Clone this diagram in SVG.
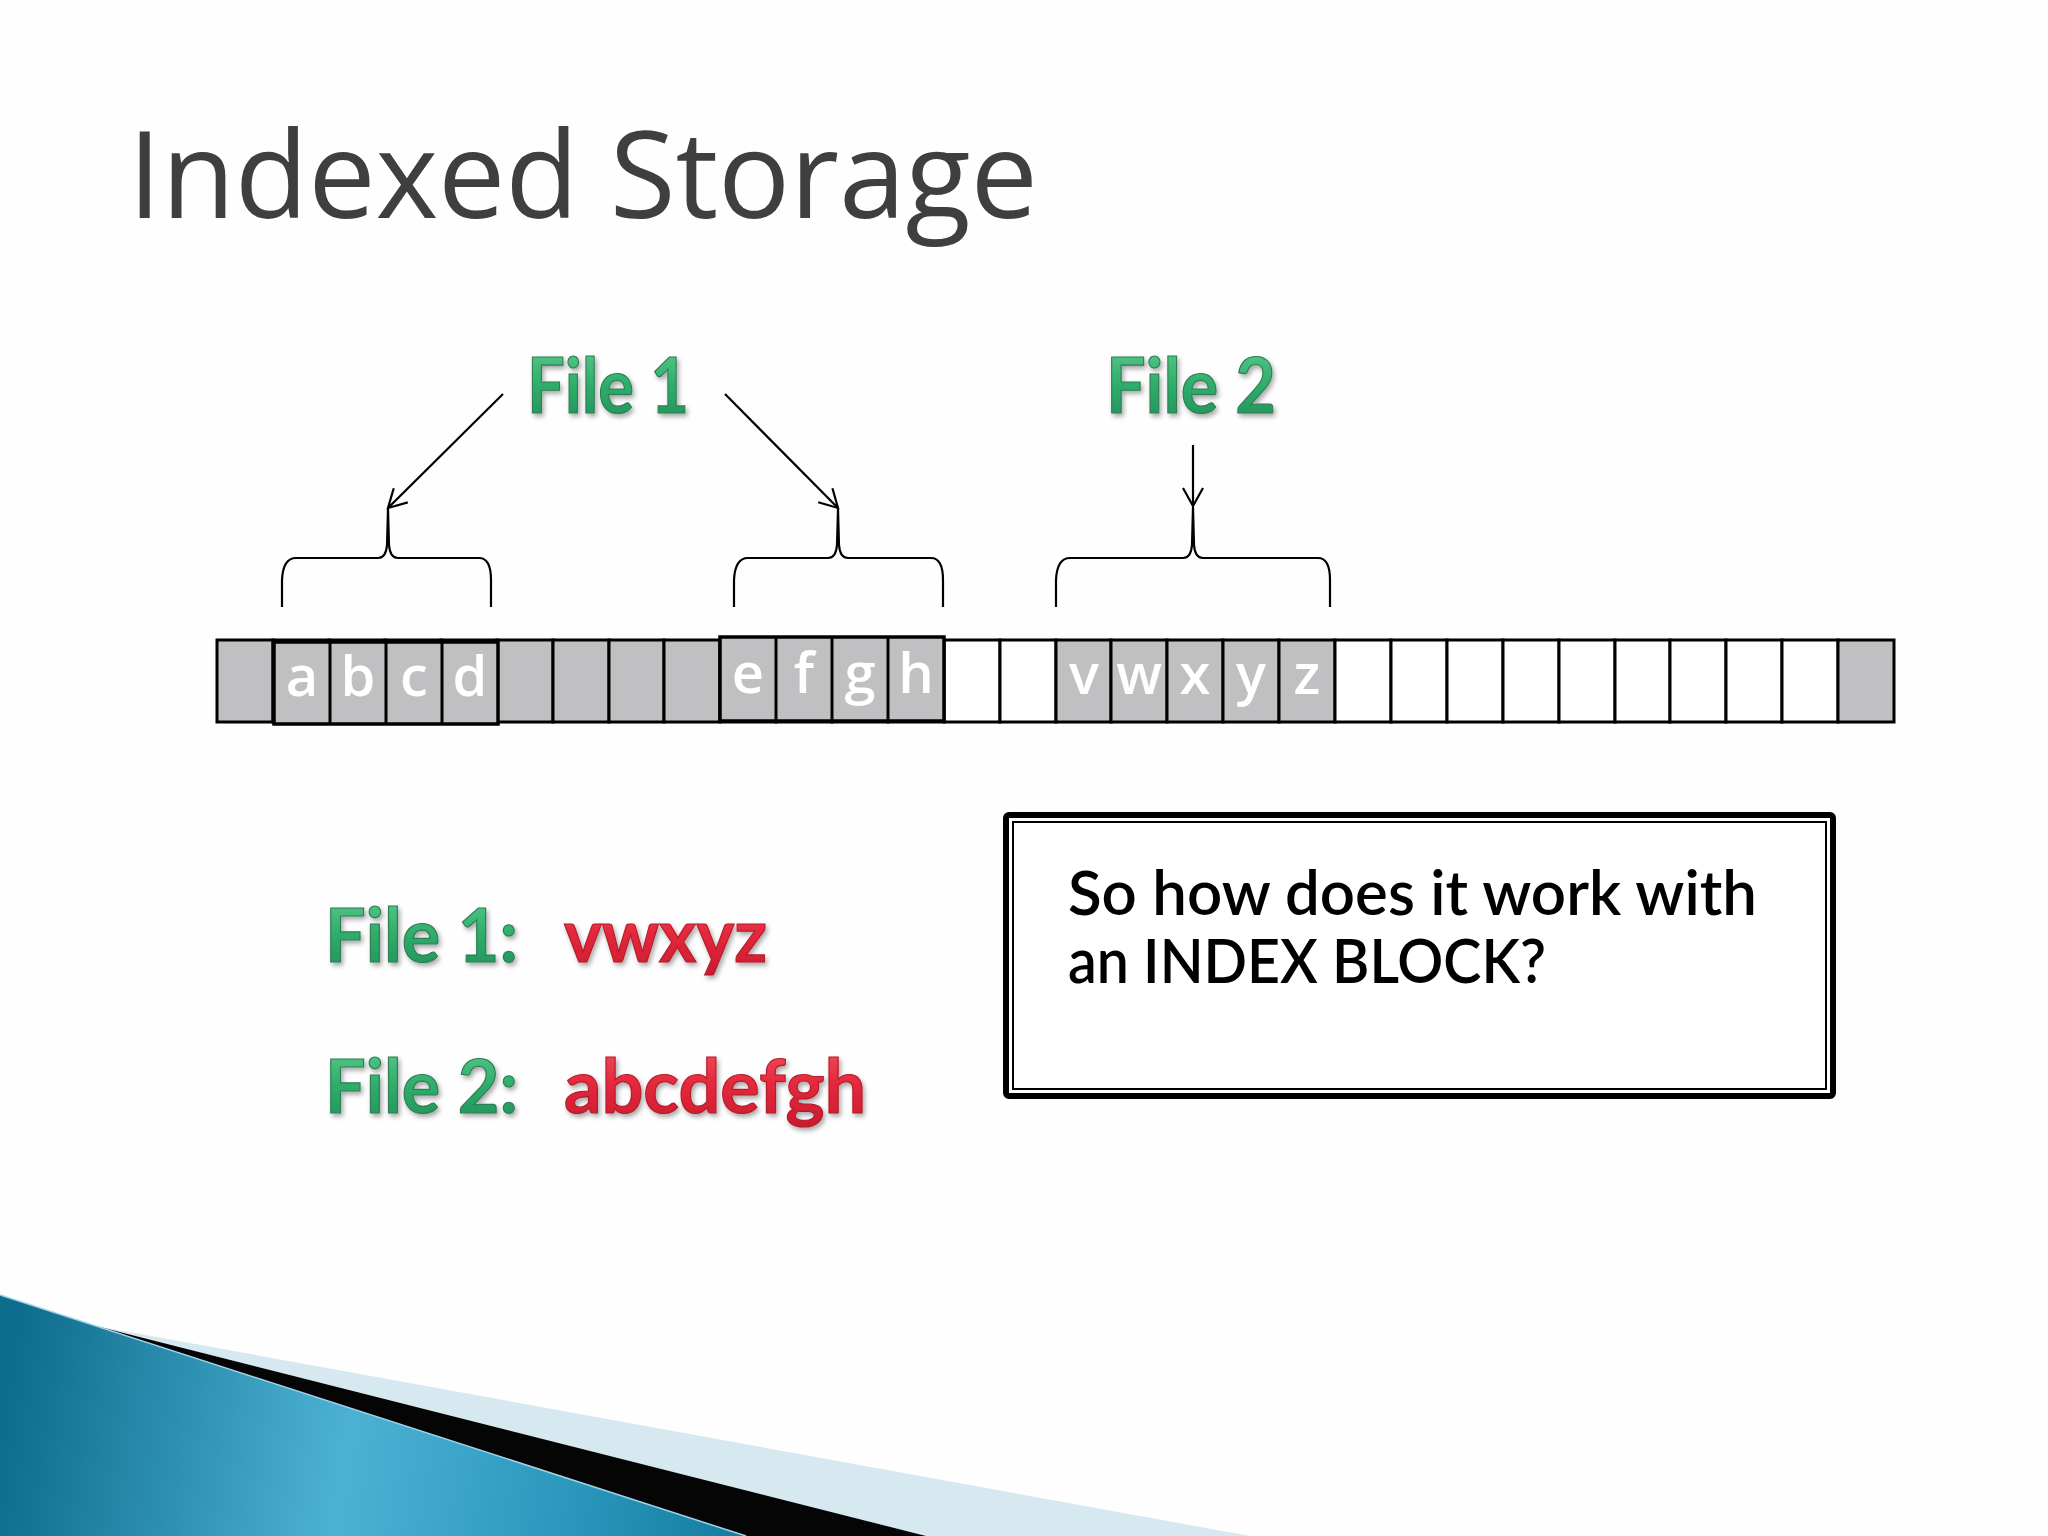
<svg xmlns="http://www.w3.org/2000/svg" width="2048" height="1536" viewBox="0 0 2048 1536">
  <defs>
    <style>
      .title { font-family: "Open Sans", "DejaVu Sans", sans-serif; font-size: 120px; fill: #3f3f3f; }
      .cell { stroke: #000; stroke-width: 3; }
      .g { fill: #c0bfc1; }
      .w { fill: #ffffff; }
      .grp { fill: #c0bfc1; stroke: #000; stroke-width: 3.5; }
      .div { stroke: #000; stroke-width: 3; }
      .lt { font-family: "Open Sans", "DejaVu Sans", sans-serif; font-weight: 600; font-size: 56px; fill: #ffffff; text-anchor: middle; }
      .green { font-family: Lato, "Liberation Sans", sans-serif; font-weight: bold; fill: url(#gGreen); stroke: #2f7d53; stroke-width: 1.2; filter: url(#shadow); }
      .red { font-family: Lato, "Liberation Sans", sans-serif; font-weight: bold; fill: url(#gRed); stroke: #b51c2c; stroke-width: 1.2; filter: url(#shadow); }
      .conn { stroke: #000; stroke-width: 2.2; fill: none; }
      .brace { stroke: #000; stroke-width: 2.2; fill: none; }
      .q { font-family: Lato, "Liberation Sans", sans-serif; font-weight: 600; font-size: 61px; fill: #000; }
    </style>
    <linearGradient id="gGreen" x1="0" y1="0" x2="0" y2="1">
      <stop offset="0" stop-color="#62cf92"/>
      <stop offset="0.5" stop-color="#2fae6c"/>
      <stop offset="1" stop-color="#1f8f55"/>
    </linearGradient>
    <linearGradient id="gRed" x1="0" y1="0" x2="0" y2="1">
      <stop offset="0" stop-color="#f25563"/>
      <stop offset="0.5" stop-color="#e5283c"/>
      <stop offset="1" stop-color="#c81a2e"/>
    </linearGradient>
    <linearGradient id="gBlue" gradientUnits="userSpaceOnUse" x1="0" y1="1420" x2="760" y2="1536">
      <stop offset="0" stop-color="#0e6c8c"/>
      <stop offset="0.45" stop-color="#4cb2d4"/>
      <stop offset="0.75" stop-color="#2b97bc"/>
      <stop offset="1" stop-color="#12799d"/>
    </linearGradient>
    <filter id="shadow" x="-10%" y="-10%" width="130%" height="140%">
      <feGaussianBlur in="SourceAlpha" stdDeviation="2.5"/>
      <feOffset dx="2" dy="3" result="b"/>
      <feComponentTransfer><feFuncA type="linear" slope="0.35"/></feComponentTransfer>
      <feMerge><feMergeNode/><feMergeNode in="SourceGraphic"/></feMerge>
    </filter>
    <marker id="arrow" markerUnits="userSpaceOnUse" markerWidth="40" markerHeight="40" viewBox="-20 -20 40 40" refX="0" refY="0" orient="auto">
      <path d="M-18,-10 L0,0 L-18,10" fill="none" stroke="#000" stroke-width="2.2"/>
    </marker>
  </defs>

  <rect width="2048" height="1536" fill="#fefefe"/>

  <!-- Bottom-left decoration -->
  <g id="swoosh">
    <polygon points="96,1326 1250,1536 0,1536" fill="#d6e8f0"/>
    <polygon points="96,1326 926,1536 0,1536" fill="#050505"/>
    <polygon points="0,1295 746,1536 0,1536" fill="url(#gBlue)"/>
    <line x1="0" y1="1295" x2="746" y2="1536" stroke="#9fd4e8" stroke-width="1.5"/>
  </g>

  <g id="title">
    <text class="title" x="128" y="218" textLength="910" lengthAdjust="spacing">Indexed Storage</text>
  </g>

  <!-- Labels -->
  <g id="label-file1">
    <text class="green" x="527" y="413" font-size="76" textLength="162" lengthAdjust="spacingAndGlyphs">File 1</text>
  </g>
  <g id="label-file2">
    <text class="green" x="1106" y="413" font-size="76" textLength="170" lengthAdjust="spacingAndGlyphs">File 2</text>
  </g>

  <!-- Braces -->
  <g id="brace-abcd">
    <path class="brace" d="M282,607 L282,580 Q283,558 296,558 L378,558 Q386,558 387,545 L388,509 L389,545 Q390,558 398,558 L479,558 Q491,558 491,580 L491,607"/>
  </g>
  <g id="brace-efgh">
    <path class="brace" d="M734,607 L734,580 Q735,558 748,558 L828,558 Q836,558 837,545 L838,509 L839,545 Q840,558 848,558 L931,558 Q943,558 943,580 L943,607"/>
  </g>
  <g id="brace-vwxyz">
    <path class="brace" d="M1056,607 L1056,580 Q1057,558 1070,558 L1183,558 Q1191,558 1192,545 L1193,507 L1194,545 Q1195,558 1203,558 L1318,558 Q1330,558 1330,580 L1330,607"/>
  </g>

  <!-- Connectors -->
  <g id="connectors">
    <line class="conn" x1="503" y1="394" x2="388" y2="508" marker-end="url(#arrow)"/>
    <line class="conn" x1="725" y1="394" x2="838" y2="508" marker-end="url(#arrow)"/>
    <line class="conn" x1="1193" y1="445" x2="1193" y2="506" marker-end="url(#arrow)"/>
  </g>

  <!-- Storage blocks -->
  <g id="storage">
    <rect class="cell g" x="217" y="640" width="56" height="82"/>
    <rect class="cell g" x="273" y="640" width="56" height="82"/>
    <rect class="cell g" x="329" y="640" width="56" height="82"/>
    <rect class="cell g" x="385" y="640" width="56" height="82"/>
    <rect class="cell g" x="441" y="640" width="56" height="82"/>
    <rect class="cell g" x="497" y="640" width="56" height="82"/>
    <rect class="cell g" x="553" y="640" width="56" height="82"/>
    <rect class="cell g" x="609" y="640" width="55" height="82"/>
    <rect class="cell g" x="664" y="640" width="56" height="82"/>
    <rect class="cell g" x="720" y="640" width="56" height="82"/>
    <rect class="cell g" x="776" y="640" width="56" height="82"/>
    <rect class="cell g" x="832" y="640" width="56" height="82"/>
    <rect class="cell g" x="888" y="640" width="56" height="82"/>
    <rect class="cell w" x="944" y="640" width="56" height="82"/>
    <rect class="cell w" x="1000" y="640" width="56" height="82"/>
    <rect class="cell g" x="1056" y="640" width="55" height="82"/>
    <rect class="cell g" x="1111" y="640" width="56" height="82"/>
    <rect class="cell g" x="1167" y="640" width="56" height="82"/>
    <rect class="cell g" x="1223" y="640" width="56" height="82"/>
    <rect class="cell g" x="1279" y="640" width="56" height="82"/>
    <rect class="cell w" x="1335" y="640" width="56" height="82"/>
    <rect class="cell w" x="1391" y="640" width="56" height="82"/>
    <rect class="cell w" x="1447" y="640" width="56" height="82"/>
    <rect class="cell w" x="1503" y="640" width="56" height="82"/>
    <rect class="cell w" x="1559" y="640" width="56" height="82"/>
    <rect class="cell w" x="1615" y="640" width="55" height="82"/>
    <rect class="cell w" x="1670" y="640" width="56" height="82"/>
    <rect class="cell w" x="1726" y="640" width="56" height="82"/>
    <rect class="cell w" x="1782" y="640" width="56" height="82"/>
    <rect class="cell g" x="1838" y="640" width="56" height="82"/>
  </g>

  <g id="block-abcd">
    <rect class="grp" x="274" y="642" width="224" height="82"/>
    <line class="div" x1="330" y1="642" x2="330" y2="724"/>
    <line class="div" x1="386" y1="642" x2="386" y2="724"/>
    <line class="div" x1="442" y1="642" x2="442" y2="724"/>
    <text class="lt" x="302" y="696">a</text>
    <text class="lt" x="358" y="696">b</text>
    <text class="lt" x="414" y="696">c</text>
    <text class="lt" x="470" y="696">d</text>
  </g>
  <g id="block-efgh">
    <rect class="grp" x="720" y="637" width="224" height="84"/>
    <line class="div" x1="776" y1="637" x2="776" y2="721"/>
    <line class="div" x1="832" y1="637" x2="832" y2="721"/>
    <line class="div" x1="888" y1="637" x2="888" y2="721"/>
    <text class="lt" x="748" y="693">e</text>
    <text class="lt" x="804" y="693">f</text>
    <text class="lt" x="860" y="693">g</text>
    <text class="lt" x="916" y="693">h</text>
  </g>
  <g id="block-vwxyz">
    <text class="lt" x="1084" y="694">v</text>
    <text class="lt" x="1139" y="694">w</text>
    <text class="lt" x="1195" y="694">x</text>
    <text class="lt" x="1251" y="694">y</text>
    <text class="lt" x="1307" y="694">z</text>
  </g>

  <!-- Lower listing -->
  <g id="list-file1">
    <text class="green" x="325" y="962" font-size="75" textLength="193" lengthAdjust="spacingAndGlyphs">File 1:</text>
    <text class="red" x="564" y="962" font-size="75" textLength="203" lengthAdjust="spacingAndGlyphs">vwxyz</text>
  </g>
  <g id="list-file2">
    <text class="green" x="325" y="1113" font-size="75" textLength="193" lengthAdjust="spacingAndGlyphs">File 2:</text>
    <text class="red" x="564" y="1113" font-size="75" textLength="302" lengthAdjust="spacingAndGlyphs">abcdefgh</text>
  </g>

  <!-- Question box -->
  <g id="question-box">
    <rect x="1006" y="815" width="827" height="281" rx="3" fill="#ffffff" stroke="#000" stroke-width="6"/>
    <rect x="1013" y="822" width="813" height="267" fill="none" stroke="#000" stroke-width="2"/>
    <text class="q" x="1068" y="915" textLength="689" lengthAdjust="spacingAndGlyphs">So how does it work with</text>
    <text class="q" x="1068" y="983" textLength="478" lengthAdjust="spacingAndGlyphs">an INDEX BLOCK?</text>
  </g>
</svg>
